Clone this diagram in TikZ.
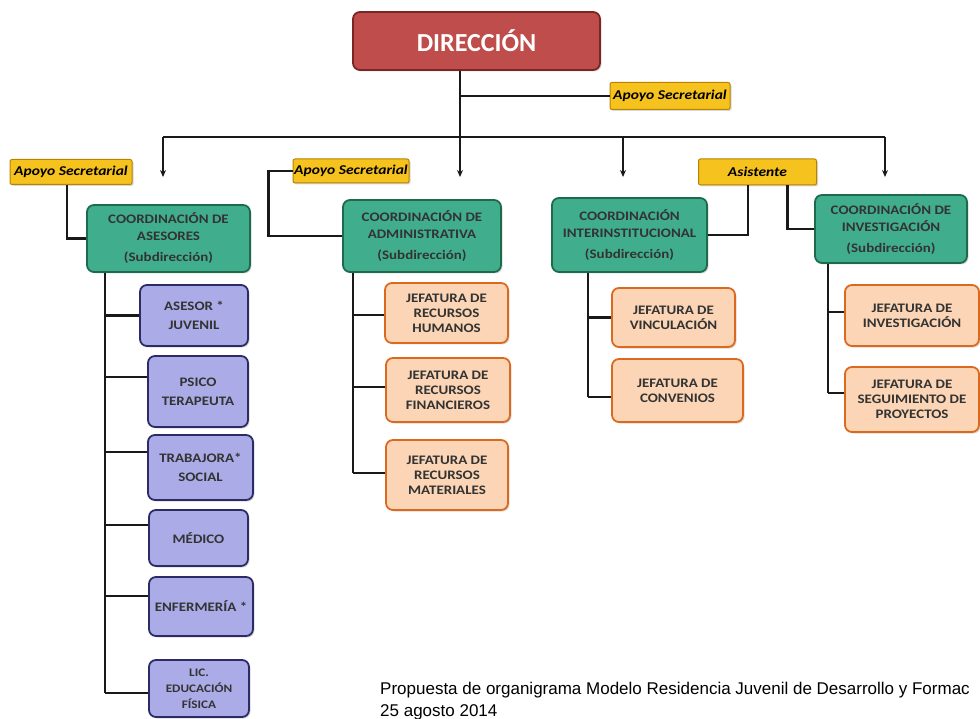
\documentclass[tikz,border=0pt]{standalone}
\usepackage{fontspec}
\setmainfont{Carlito}[FakeStretch=1.15]
\newfontfamily\dirfont{Carlito}
\newfontfamily\capfont{Liberation Sans}
\usetikzlibrary{arrows.meta,shadows}

\definecolor{dirred}{HTML}{BE4D4B}
\definecolor{dirline}{HTML}{7A2624}
\definecolor{apfill}{HTML}{F5C21E}
\definecolor{apline}{HTML}{B98200}
\definecolor{coordfill}{HTML}{40AE8C}
\definecolor{coordline}{HTML}{1D6B4B}
\definecolor{stafffill}{HTML}{ABABE8}
\definecolor{staffline}{HTML}{2B2B66}
\definecolor{jefafill}{HTML}{FBD5B5}
\definecolor{jefaline}{HTML}{DC6A1E}

\begin{document}
\begin{tikzpicture}[x=1pt,y=-1pt]
    \tikzstyle{box} = [rectangle, rounded corners=7pt, line width=1.8pt, align=center, inner sep=1pt,
        drop shadow={shadow xshift=1.5pt, shadow yshift=-1.5pt, opacity=0.3}]
    \tikzstyle{dirbox} = [box, fill=dirred, draw=dirline, text=white, font=\dirfont\bfseries\fontsize{26}{30}\selectfont]
    \tikzstyle{apoyo} = [box, fill=apfill, draw=apline, rounded corners=2pt, line width=1pt,
        font=\bfseries\itshape\fontsize{13.5}{15}\selectfont]
    \tikzstyle{coord} = [box, fill=coordfill, draw=coordline, text=black!80, font=\bfseries\fontsize{13}{17}\selectfont]
    \tikzstyle{staff} = [box, fill=stafffill, draw=staffline, text=black!80, font=\bfseries\fontsize{13}{19}\selectfont]
    \tikzstyle{jefa} = [box, fill=jefafill, draw=jefaline, text=black!80, font=\bfseries\fontsize{13}{15}\selectfont]
    \tikzstyle{link} = [line width=2.6pt, black!90]
    \tikzstyle{down} = [link, -{Stealth[length=7pt,width=6pt]}]

    \useasboundingbox (0,0) rectangle (980,719);

    % direccion y apoyos
    \node[dirbox, minimum width=247pt, minimum height=58pt] (1) at (476.5,41) {DIRECCIÓN};
    \node[apoyo, minimum width=120pt, minimum height=27pt] (2) at (670,96) {Apoyo Secretarial};
    \node[apoyo, minimum width=122pt, minimum height=25pt] (3) at (71,172) {Apoyo Secretarial};
    \node[apoyo, minimum width=116pt, minimum height=24pt] (4) at (351,171) {Apoyo Secretarial};
    \node[apoyo, minimum width=118pt, minimum height=26pt] (5) at (757.5,172) {Asistente};

    % coordinaciones
    \node[coord, minimum width=163pt, minimum height=67pt] (6) at (168.5,238.5) {COORDINACIÓN DE\\ASESORES\\[4pt](Subdirección)};
    \node[coord, minimum width=158pt, minimum height=72pt] (7) at (422,236) {COORDINACIÓN DE\\ADMINISTRATIVA\\[4pt](Subdirección)};
    \node[coord, minimum width=155pt, minimum height=74pt] (8) at (629.5,235) {COORDINACIÓN\\INTERINSTITUCIONAL\\[4pt](Subdirección)};
    \node[coord, minimum width=152pt, minimum height=68pt] (9) at (891,229) {COORDINACIÓN DE\\INVESTIGACIÓN\\[4pt](Subdirección)};

    % asesores
    \node[staff, minimum width=108pt, minimum height=61pt] (10) at (194,315.5) {ASESOR *\\JUVENIL};
    \node[staff, minimum width=100pt, minimum height=71pt] (11) at (198,391.5) {PSICO\\TERAPEUTA};
    \node[staff, minimum width=105pt, minimum height=65pt] (12) at (200.5,467.5) {TRABAJORA*\\SOCIAL};
    \node[staff, minimum width=99pt, minimum height=56pt] (13) at (198.5,538) {MÉDICO};
    \node[staff, minimum width=104pt, minimum height=59pt] (14) at (201,606.5) {ENFERMERÍA *};
    \node[staff, minimum width=100pt, minimum height=57pt, font=\bfseries\fontsize{11.5}{16}\selectfont] (15) at (199,688.5) {LIC.\\EDUCACIÓN\\FÍSICA};

    % jefaturas
    \node[jefa, minimum width=123pt, minimum height=60pt] (16) at (446.5,313) {JEFATURA DE\\RECURSOS\\HUMANOS};
    \node[jefa, minimum width=124pt, minimum height=64pt] (17) at (448,390) {JEFATURA DE\\RECURSOS\\FINANCIEROS};
    \node[jefa, minimum width=122pt, minimum height=70pt] (18) at (447,475) {JEFATURA DE\\RECURSOS\\MATERIALES};
    \node[jefa, minimum width=123pt, minimum height=59pt] (19) at (673.5,317.5) {JEFATURA DE\\VINCULACIÓN};
    \node[jefa, minimum width=131pt, minimum height=63pt] (20) at (677.5,390.5) {JEFATURA DE\\CONVENIOS};
    \node[jefa, minimum width=134pt, minimum height=61pt] (21) at (912,315.5) {JEFATURA DE\\INVESTIGACIÓN};
    \node[jefa, minimum width=134pt, minimum height=65pt] (22) at (912,399.5) {JEFATURA DE\\SEGUIMIENTO DE\\PROYECTOS};

    \node[anchor=north west, align=left, inner sep=0pt, font=\capfont\fontsize{17}{22}\selectfont] (23) at (380,682)
        {Propuesta de organigrama Modelo Residencia Juvenil de Desarrollo y Formac\\25 agosto 2014};

    % barra principal
    \coordinate (b1) at (163,137);
    \coordinate (b2) at (885,137);
    \coordinate (a1) at (163,177);
    \coordinate (a2) at (460,177);
    \coordinate (a3) at (623,177);
    \coordinate (a4) at (885,177);
    \draw[link] (b1) -- (b2);
    \draw[down] (1.south -| a2) -- (a2);
    \draw[down] (b1) -- (a1);
    \draw[down] (a3 |- b1) -- (a3);
    \draw[down] (b2) -- (a4);
    \draw[link] (a2 |- 2) -- (2.west);

    % apoyos a coordinaciones
    \draw[link] ([xshift=-4pt]3.south) |- (6.west);
    \draw[link] (4.west) -- ++(-24,0) |- (7.west);
    \draw[link] ([xshift=-9.5pt]5.south) |- (8.east);
    \draw[link] ([xshift=30pt]5.south) |- (9.west);

    % troncos
    \coordinate (t1) at (105,693);
    \coordinate (t2) at (353,473);
    \coordinate (t3) at (588,397);
    \coordinate (t4) at (828,393);
    \draw[link] (6.south -| t1) -- (t1);
    \draw[link] (7.south -| t2) -- (t2);
    \draw[link] (8.south -| t3) -- (t3);
    \draw[link] (9.south -| t4) -- (t4);

    \draw[link] (10.west) -- (10.west -| t1);
    \draw[link] ([yshift=14.5pt]11.west) -- ([yshift=14.5pt]11.west -| t1);
    \draw[link] ([yshift=15.5pt]12.west) -- ([yshift=15.5pt]12.west -| t1);
    \draw[link] ([yshift=13pt]13.west) -- ([yshift=13pt]13.west -| t1);
    \draw[link] ([yshift=10.5pt]14.west) -- ([yshift=10.5pt]14.west -| t1);
    \draw[link] (t1) -- (t1 -| 15.west);

    \draw[link] ([yshift=-2pt]16.west) -- ([yshift=-2pt]16.west -| t2);
    \draw[link] ([yshift=3pt]17.west) -- ([yshift=3pt]17.west -| t2);
    \draw[link] (t2) -- (t2 -| 18.west);

    \draw[link] (19.west) -- (19.west -| t3);
    \draw[link] (t3) -- (t3 -| 20.west);

    \draw[link] ([yshift=3.5pt]21.west) -- ([yshift=3.5pt]21.west -| t4);
    \draw[link] (t4) -- (t4 -| 22.west);
\end{tikzpicture}
\end{document}
